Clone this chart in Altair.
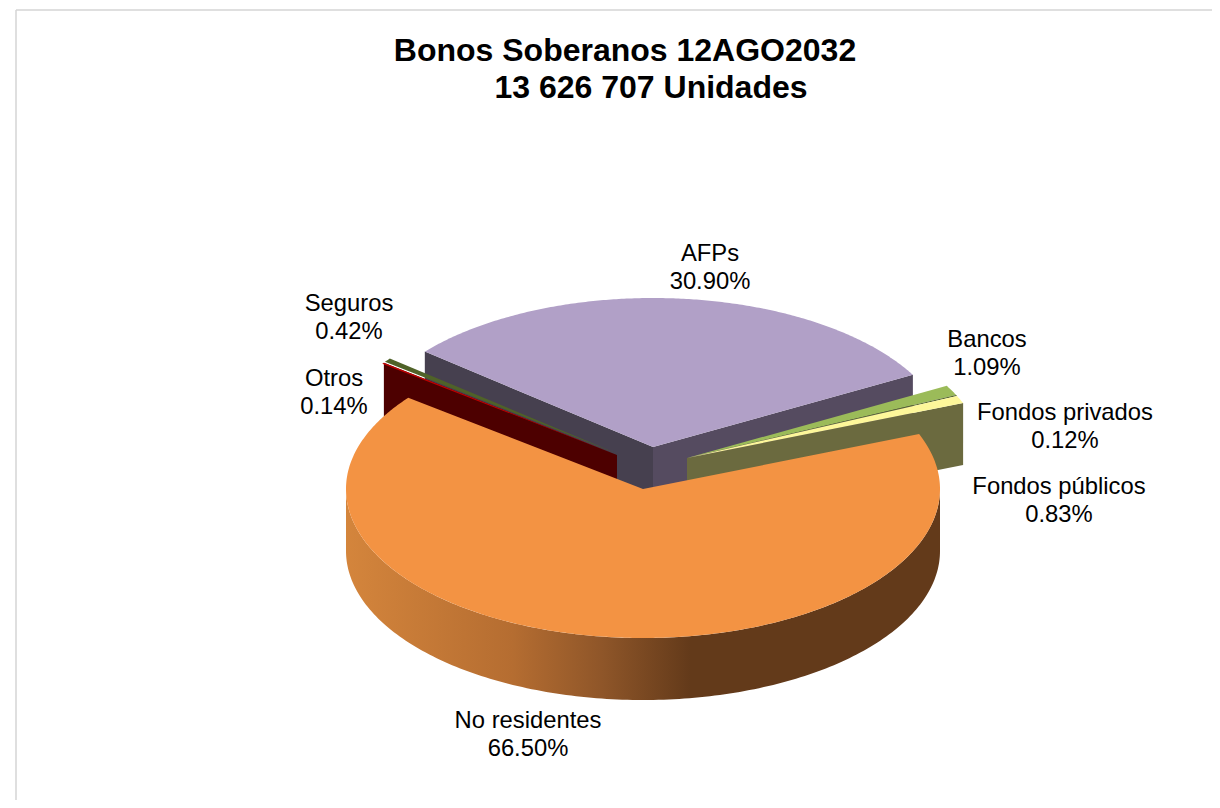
import math
import altair as alt
import pandas as pd

# ---- values ----
labels = ["AFPs", "Bancos", "Fondos privados", "Fondos públicos", "No residentes", "Otros", "Seguros"]
shares = [30.90, 1.09, 0.12, 0.83, 66.50, 0.14, 0.42]
label_x = [710, 987, 1065, 1059, 528, 334, 349]
label_y = [253.5, 339.5, 412.5, 486.5, 720.5, 378.5, 303.5]
title_lines = ["Bonos Soberanos 12AGO2032", "13 626 707 Unidades"]
title_x = [625, 651]
title_y = [51, 88]

top_colors = ["#b1a0c7", "#9bbb59", "#55662f", "#fdf79a", "#f39343", "#c00000", "#4f6228"]
apex = {"AFPs": (653, 447), "Bancos": (687, 458), "Fondos privados": (687, 458),
        "Fondos públicos": (687, 458), "No residentes": (643, 489), "Otros": (617, 455),
        "Seguros": (618, 454)}
RX, RY, DEPTH = 297, 149, 62
START = 140.2  # angle (deg, counter-clockwise from east) where the first slice begins

# slice angles follow from the shares, clockwise
ang = {}
a = START
for name, s in zip(labels, shares):
    ang[name] = (a, a - s * 3.6)
    a -= s * 3.6

def pt(name, deg, dz=0):
    cx, cy = apex[name]
    return (cx + RX * math.cos(math.radians(deg)), cy - RY * math.sin(math.radians(deg)) + dz)

def sector(name):
    a0, a1 = ang[name]
    n = max(2, int(abs(a0 - a1) * 2))
    return [apex[name]] + [pt(name, a0 + (a1 - a0) * i / n) for i in range(n + 1)]

def cut_wall(name, deg):
    cx, cy = apex[name]
    t = pt(name, deg)
    return [(cx, cy), t, (t[0], t[1] + DEPTH), (cx, cy + DEPTH)]

def front_wall(name):
    degs = [180 + i for i in range(181)]
    return [pt(name, d) for d in degs] + [pt(name, d, DEPTH) for d in reversed(degs)]

X = alt.Scale(domain=[8, 1212], range=[0, 1204], nice=False, zero=False)
Y = alt.Scale(domain=[8, 800], range=[0, 792], nice=False, zero=False)

def poly(points, fill):
    df = pd.DataFrame(points, columns=["x", "y"]).assign(i=range(len(points)))
    return alt.Chart(df).mark_line(filled=True, fill=fill, stroke=None, strokeWidth=0, clip=False, interpolate="linear-closed").encode(
        x=alt.X("x:Q", scale=X, axis=None),
        y=alt.Y("y:Q", scale=Y, axis=None),
        order="i:Q",
    )

c = dict(zip(labels, top_colors))
wall_gradient = alt.Gradient(
    gradient="linear", x1=0, x2=1, y1=0, y2=0,
    stops=[
        alt.GradientStop(offset=0.0, color="#d4853c"),
        alt.GradientStop(offset=0.28, color="#b56d31"),
        alt.GradientStop(offset=0.43, color="#8f5629"),
        alt.GradientStop(offset=0.58, color="#633a1a"),
        alt.GradientStop(offset=1.0, color="#633a1a"),
    ],
)

layers = [
    poly(cut_wall("AFPs", ang["AFPs"][0]), "#46404f"),
    poly(cut_wall("AFPs", ang["AFPs"][1]), "#554b60"),
    poly(sector("AFPs"), c["AFPs"]),
    poly(cut_wall("Fondos públicos", ang["Fondos públicos"][1]), "#6b6a3f"),
    poly(sector("Bancos"), c["Bancos"]),
    poly(sector("Fondos privados"), c["Fondos privados"]),
    poly(sector("Fondos públicos"), c["Fondos públicos"]),
    poly(sector("Seguros"), c["Seguros"]),
    poly(cut_wall("Otros", ang["Otros"][1]), "#4d0000"),
    poly(sector("Otros"), c["Otros"]),
    poly(front_wall("No residentes"), wall_gradient),
    poly(sector("No residentes"), c["No residentes"]),
]

border_v = pd.DataFrame({"x": [16], "y": [10], "y2": [800]})
border_h = pd.DataFrame({"x": [16], "x2": [1212], "y": [10]})
rules = [
    alt.Chart(border_v).mark_rule(color="#d4d4d4", strokeWidth=1.5).encode(
        x=alt.X("x:Q", scale=X, axis=None), y=alt.Y("y:Q", scale=Y, axis=None), y2="y2:Q"),
    alt.Chart(border_h).mark_rule(color="#d4d4d4", strokeWidth=1.5).encode(
        x=alt.X("x:Q", scale=X, axis=None), x2="x2:Q", y=alt.Y("y:Q", scale=Y, axis=None)),
]

rows = []
for name, s, lx, ly in zip(labels, shares, label_x, label_y):
    rows.append({"t": name, "x": lx, "y": ly})
    rows.append({"t": f"{s:.2f}%", "x": lx, "y": ly + 28})
text = alt.Chart(pd.DataFrame(rows)).mark_text(
    font="Liberation Sans", fontSize=23.8, color="#000000", align="center", baseline="middle"
).encode(x=alt.X("x:Q", scale=X, axis=None), y=alt.Y("y:Q", scale=Y, axis=None), text="t:N")

title = alt.Chart(pd.DataFrame({"t": title_lines, "x": title_x, "y": title_y})).mark_text(
    font="Liberation Sans", fontSize=32, fontWeight="bold", color="#000000", align="center", baseline="middle"
).encode(x=alt.X("x:Q", scale=X, axis=None), y=alt.Y("y:Q", scale=Y, axis=None), text="t:N")

chart = alt.layer(*rules, *layers, text, title).properties(
    width=1204, height=792, padding=0, autosize=alt.AutoSizeParams(type="none"), background="#ffffff"
).configure_view(stroke=None)

chart.save("out.html", embed_options={"renderer": "svg", "actions": False})
